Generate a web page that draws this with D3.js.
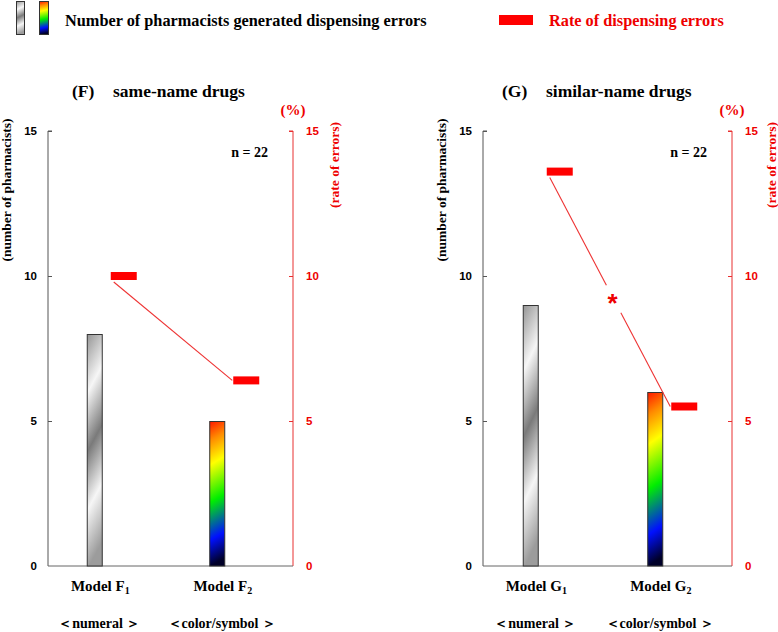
<!DOCTYPE html>
<html><head><meta charset="utf-8">
<script src="https://cdn.jsdelivr.net/npm/d3@7"></script>
<style>body{margin:0;background:#fff}</style>
</head><body><svg id="c" width="778" height="632"></svg>
<script>
const panelLabels = ["(F)", "(G)"];
const panelTitles = ["same-name drugs", "similar-name drugs"];
const categoriesF = ["Model F1", "Model F2"];
const categoriesG = ["Model G1", "Model G2"];
const pharmacistsF = [8, 5];
const pharmacistsG = [9, 6];
const errorRateF = [10.0, 6.4];
const errorRateG = [13.6, 5.5];
const modelTypes = ["＜numeral ＞", "＜color/symbol ＞"];
const countTicks = [0, 5, 10, 15];
const rateTicks = [0, 5, 10, 15];
const sampleSizes = ["n = 22", "n = 22"];
const significant = [false, true];
const legendLabels = ["Number of pharmacists generated dispensing errors", "Rate of dispensing errors"];

const SERIF = "'Liberation Serif','Times New Roman',serif";
const SANS = "'Liberation Sans',Arial,sans-serif";
const RED = "#ee0000";
const svg = d3.select("#c");
const defs = svg.append("defs");

const metal = defs.append("linearGradient").attr("id", "metal")
  .attr("x1", 0).attr("y1", 0).attr("x2", 0.12).attr("y2", 1);
[[0, "#959595"], [0.25, "#f6f6f6"], [0.5, "#7a7a7a"], [0.75, "#f6f6f6"], [1, "#9c9c9c"]]
  .forEach(([o, c]) => metal.append("stop").attr("offset", o).attr("stop-color", c));
const rainbow = defs.append("linearGradient").attr("id", "rainbow")
  .attr("x1", 0).attr("y1", 0).attr("x2", 0.06).attr("y2", 1);
[[0, "#ff1800"], [0.13, "#ff8a00"], [0.3, "#ffff00"], [0.56, "#00ee00"], [0.82, "#0010ff"], [1, "#000028"]]
  .forEach(([o, c]) => rainbow.append("stop").attr("offset", o).attr("stop-color", c));
const fills = ["url(#metal)", "url(#rainbow)"];

// legend
svg.append("rect").attr("x", 16.5).attr("y", 1.5).attr("width", 8).attr("height", 33)
  .attr("fill", "url(#metal)").attr("stroke", "#333");
svg.append("rect").attr("x", 39.5).attr("y", 1.5).attr("width", 9).attr("height", 33)
  .attr("fill", "url(#rainbow)").attr("stroke", "#333");
svg.append("text").attr("x", 65).attr("y", 26).attr("font-family", SERIF).attr("font-weight", "bold")
  .attr("font-size", 16.3).attr("fill", "#000").text(legendLabels[0]);
svg.append("rect").attr("x", 499).attr("y", 15).attr("width", 34).attr("height", 10).attr("fill", "#ff0000");
svg.append("text").attr("x", 549).attr("y", 26).attr("font-family", SERIF).attr("font-weight", "bold")
  .attr("font-size", 16.3).attr("fill", RED).text(legendLabels[1]);

const yTop = 131, yBottom = 566;

function drawPanel(i, cats, counts, rates, x0, x1, titleOff, rightTitleX, leftTitleX) {
  const g = svg.append("g");
  const x = d3.scalePoint().domain(cats).range([x0, x1]).padding(0.5);
  const yL = d3.scaleLinear().domain([0, 15]).range([yBottom, yTop]);
  const yR = d3.scaleLinear().domain([0, 15]).range([yBottom, yTop]);

  // axes
  const axL = g.append("g").attr("transform", `translate(${x0},0)`)
    .call(d3.axisRight(yL).tickValues(countTicks).tickSize(4).tickFormat(""));
  axL.select(".domain").attr("stroke", "#555").attr("d", `M4,${yTop}H0V${yBottom}`);
  axL.selectAll(".tick line").attr("stroke", "#555");
  axL.selectAll(".tick").filter(d => d === 0).remove();
  g.selectAll(".lt").data(countTicks).join("text").attr("class", "lt")
    .attr("x", x0 - 11).attr("y", d => yL(d) + 4).attr("text-anchor", "end")
    .attr("font-family", SANS).attr("font-weight", "bold").attr("font-size", 11.5).attr("fill", "#000")
    .text(d => d);

  const axR = g.append("g").attr("transform", `translate(${x1},0)`)
    .call(d3.axisLeft(yR).tickValues(rateTicks).tickSize(4).tickFormat(""));
  axR.select(".domain").attr("stroke", "#e83030").attr("d", `M-4,${yTop}H0V${yBottom}`);
  axR.selectAll(".tick line").attr("stroke", "#e83030");
  axR.selectAll(".tick").filter(d => d === 0).remove();
  g.selectAll(".rt").data(rateTicks).join("text").attr("class", "rt")
    .attr("x", x1 + 13).attr("y", d => yR(d) + 4).attr("text-anchor", "start")
    .attr("font-family", SANS).attr("font-weight", "bold").attr("font-size", 11.5).attr("fill", RED)
    .text(d => d);

  g.append("line").attr("x1", x0).attr("x2", x1).attr("y1", yBottom).attr("y2", yBottom)
    .attr("stroke", "#666");

  // bars
  const bw = 16, off = 14.5;
  g.selectAll(".bar").data(cats).join("rect").attr("class", "bar")
    .attr("x", d => x(d) - off - bw / 2 + 0.5).attr("y", (d, j) => yL(counts[j]) + 0.5)
    .attr("width", bw - 1).attr("height", (d, j) => yBottom - yL(counts[j]) - 0.5)
    .attr("fill", (d, j) => fills[j]).attr("stroke", "#333").attr("stroke-width", 1);

  // rate connecting line
  const mw = 26, mh = 8;
  const p1 = [x(cats[0]) + off - mw / 2 + 3, yR(rates[0]) + 6];
  const p2 = [x(cats[1]) + off - mw / 2 - 1, yR(rates[1])];
  const lineAttr = sel => sel.attr("stroke", "#ee3333").attr("stroke-width", 1.1);
  if (significant[i]) {
    const t = 0.53, ga = 0.06;
    const pt = tt => [p1[0] + (p2[0] - p1[0]) * tt, p1[1] + (p2[1] - p1[1]) * tt];
    const a = pt(t - ga), b = pt(t + ga), m = pt(t);
    g.append("line").attr("x1", p1[0]).attr("y1", p1[1]).attr("x2", a[0]).attr("y2", a[1]).call(lineAttr);
    g.append("line").attr("x1", b[0]).attr("y1", b[1]).attr("x2", p2[0]).attr("y2", p2[1]).call(lineAttr);
    g.append("text").attr("x", m[0] - 1).attr("y", m[1] + 13).attr("text-anchor", "middle")
      .attr("font-family", SANS).attr("font-weight", "bold").attr("font-size", 26).attr("fill", RED).text("*");
  } else {
    g.append("line").attr("x1", p1[0]).attr("y1", p1[1]).attr("x2", p2[0]).attr("y2", p2[1]).call(lineAttr);
  }
  g.selectAll(".mk").data(cats).join("rect").attr("class", "mk")
    .attr("x", d => x(d) + off - mw / 2).attr("y", (d, j) => yR(rates[j]) - mh / 2)
    .attr("width", mw).attr("height", mh).attr("fill", "#ff0000");

  // category labels
  const lab = g.selectAll(".cl").data(cats).join("text").attr("class", "cl")
    .attr("x", d => x(d) - 9).attr("y", 591).attr("text-anchor", "middle")
    .attr("font-family", SERIF).attr("font-weight", "bold").attr("font-size", 15).attr("fill", "#000");
  lab.append("tspan").text(d => d.slice(0, -1));
  lab.append("tspan").attr("dy", 3).attr("font-size", 10).text(d => d.slice(-1));
  g.selectAll(".ml").data(cats).join("text").attr("class", "ml")
    .attr("x", d => x(d) - 10).attr("y", 628).attr("text-anchor", "middle")
    .attr("font-family", SERIF).attr("font-weight", "bold").attr("font-size", 14).attr("fill", "#000")
    .text((d, j) => modelTypes[j]);

  // titles
  g.append("text").attr("x", x0 + titleOff[0]).attr("y", 97).attr("font-family", SERIF)
    .attr("font-weight", "bold").attr("font-size", 17.5).text(panelLabels[i]);
  g.append("text").attr("x", x0 + titleOff[1]).attr("y", 97).attr("font-family", SERIF)
    .attr("font-weight", "bold").attr("font-size", 17.5).text(panelTitles[i]);
  g.append("text").attr("x", x1).attr("y", 115).attr("text-anchor", "middle").attr("font-family", SERIF)
    .attr("font-weight", "bold").attr("font-size", 15).attr("fill", RED).text("(%)");
  g.append("text").attr("x", x1 - 25).attr("y", 157).attr("text-anchor", "end").attr("font-family", SERIF)
    .attr("font-weight", "bold").attr("font-size", 14).attr("fill", "#000").text(sampleSizes[i]);
  g.append("text").attr("transform", `translate(${leftTitleX},190) rotate(-90)`).attr("text-anchor", "middle")
    .attr("font-family", SERIF).attr("font-weight", "bold").attr("font-size", 13.5).attr("fill", "#000")
    .text("(number of pharmacists)");
  g.append("text").attr("transform", `translate(${rightTitleX},165) rotate(-90)`).attr("text-anchor", "middle")
    .attr("font-family", SERIF).attr("font-weight", "bold").attr("font-size", 13.5).attr("fill", RED)
    .text("(rate of errors)");
}

drawPanel(0, categoriesF, pharmacistsF, errorRateF, 48, 293, [24, 65], 339, 11);
drawPanel(1, categoriesG, pharmacistsG, errorRateG, 483, 732, [19, 63], 776, 446);
</script></body></html>
